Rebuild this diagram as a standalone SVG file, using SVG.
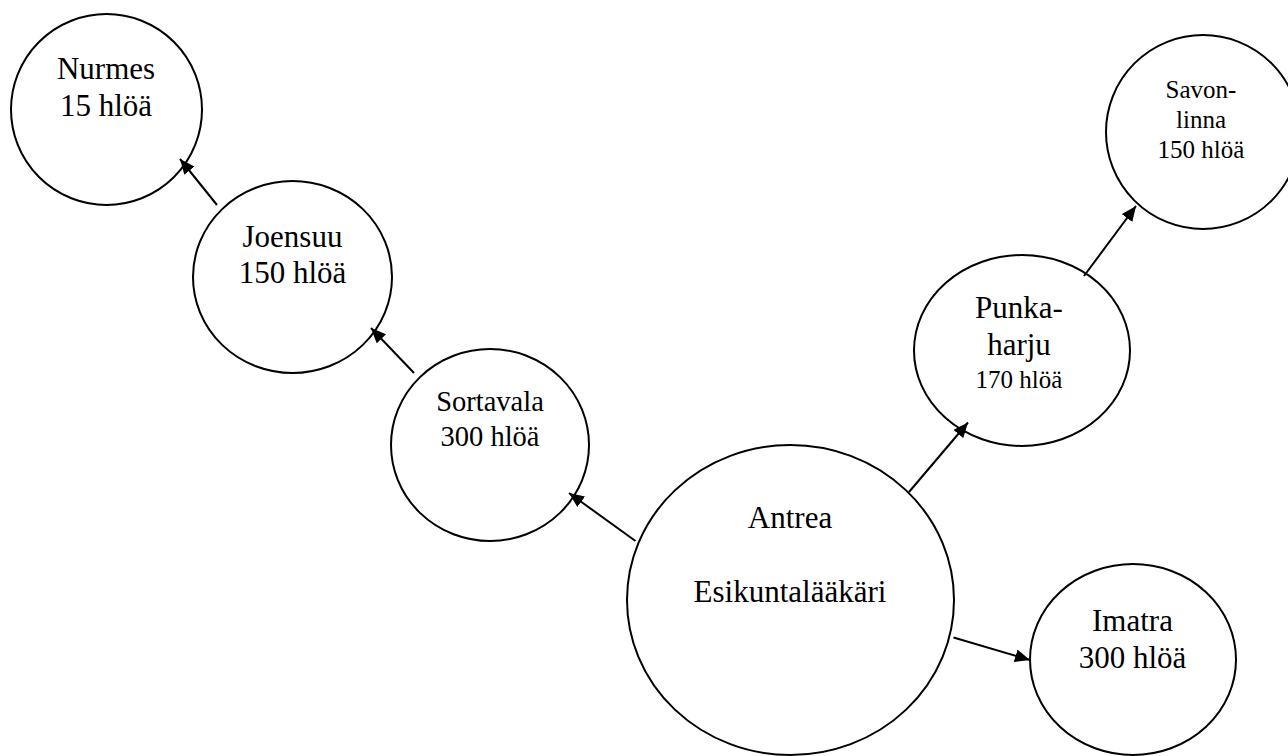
<svg xmlns="http://www.w3.org/2000/svg" width="1288" height="756" viewBox="0 0 1288 756">
  <style>
    .node { fill: #ffffff; stroke: #000000; stroke-width: 2; }
    .lbl { font-family: "Liberation Serif", "Times New Roman", serif; fill: #000000; text-anchor: middle; }
    .big { font-size: 31px; }
    .mid { font-size: 28.5px; }
    .small { font-size: 25px; }
    .edge { stroke: #000000; stroke-width: 2; fill: none; marker-end: url(#arrow); }
  </style>
  <defs>
    <marker id="arrow" markerUnits="userSpaceOnUse" markerWidth="16" markerHeight="14" refX="15" refY="6.5" orient="auto">
      <path d="M0,0 L15,6.5 L0,13 z" fill="#000000"/>
    </marker>
  </defs>
  <rect width="1288" height="756" fill="#ffffff"/>

  <g id="node-nurmes">
    <ellipse class="node" cx="106.5" cy="109.5" rx="95.5" ry="95.5"/>
    <text class="lbl big" x="106" y="79">Nurmes</text>
    <text class="lbl big" x="106" y="115.7">15 hlöä</text>
  </g>
  <g id="node-joensuu">
    <ellipse class="node" cx="292.5" cy="277" rx="99.5" ry="96"/>
    <text class="lbl big" x="292.5" y="246.7">Joensuu</text>
    <text class="lbl big" x="292.5" y="283.3">150 hlöä</text>
  </g>
  <g id="node-sortavala">
    <ellipse class="node" cx="490" cy="445" rx="99" ry="96"/>
    <text class="lbl mid" x="490" y="411">Sortavala</text>
    <text class="lbl mid" x="490" y="445.7">300 hlöä</text>
  </g>
  <g id="node-antrea">
    <ellipse class="node" cx="790.5" cy="600" rx="163.5" ry="155"/>
    <text class="lbl big" x="790" y="527.7">Antrea</text>
    <text class="lbl big" x="790" y="601.7">Esikuntalääkäri</text>
  </g>
  <g id="node-punkaharju">
    <ellipse class="node" cx="1022" cy="350.5" rx="108" ry="95.5"/>
    <text class="lbl big" x="1019" y="318.3">Punka-</text>
    <text class="lbl big" x="1019" y="355">harju</text>
    <text class="lbl small" x="1019" y="388.3">170 hlöä</text>
  </g>
  <g id="node-savonlinna">
    <ellipse class="node" cx="1203" cy="132" rx="97" ry="97"/>
    <text class="lbl small" x="1201" y="97.7">Savon-</text>
    <text class="lbl small" x="1201" y="128.3">linna</text>
    <text class="lbl small" x="1201" y="158.3">150 hlöä</text>
  </g>
  <g id="node-imatra">
    <ellipse class="node" cx="1133" cy="659.5" rx="103" ry="95.5"/>
    <text class="lbl big" x="1132.5" y="631">Imatra</text>
    <text class="lbl big" x="1132.5" y="667.7">300 hlöä</text>
  </g>

  <g id="connectors">
    <line class="edge" x1="217" y1="205" x2="180" y2="159"/>
    <line class="edge" x1="414" y1="373" x2="371" y2="328"/>
    <line class="edge" x1="635.5" y1="541" x2="569" y2="493"/>
    <line class="edge" x1="909" y1="492" x2="968" y2="422.5"/>
    <line class="edge" x1="1084" y1="276" x2="1136" y2="206"/>
    <line class="edge" x1="953.5" y1="637.5" x2="1030" y2="660"/>
  </g>
</svg>
